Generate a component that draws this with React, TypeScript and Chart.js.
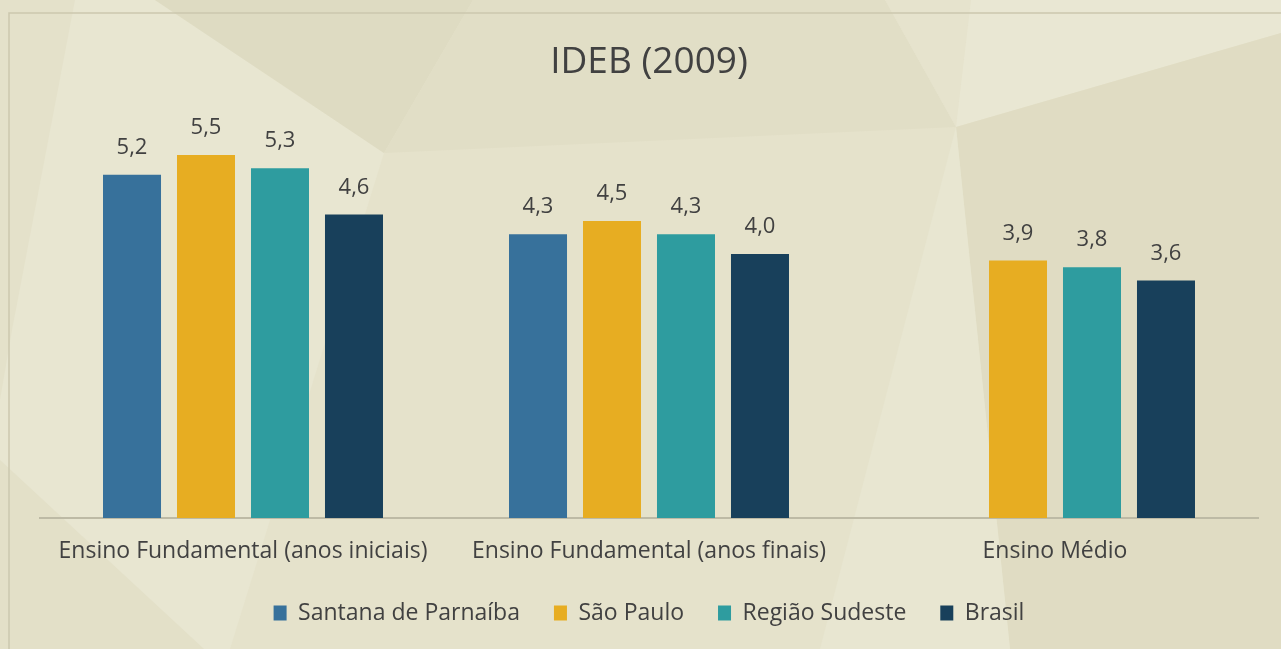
import React, { useEffect, useRef } from "react";
import { Chart, registerables } from "chart.js";

Chart.register(...registerables);

const categories = [
  "Ensino Fundamental (anos iniciais)",
  "Ensino Fundamental (anos finais)",
  "Ensino Médio",
];
const santanaDeParnaiba = [5.2, 4.3, null];
const saoPaulo = [5.5, 4.5, 3.9];
const regiaoSudeste = [5.3, 4.3, 3.8];
const brasil = [4.6, 4.0, 3.6];
const seriesNames = ["Santana de Parnaíba", "São Paulo", "Região Sudeste", "Brasil"];
const seriesColors = ["#37719b", "#e7ad22", "#2e9c9f", "#18405b"];
const titleText = "IDEB (2009)";

const FONT = "'Open Sans', 'DejaVu Sans', sans-serif";
const TEXT = "#414141";

const backgroundPlugin = {
  id: "bgPattern",
  beforeDraw(chart: any) {
    const { ctx, width, height } = chart;
    ctx.save();
    ctx.fillStyle = "#e5e2cb";
    ctx.fillRect(0, 0, width, height);
    const poly = (pts: number[][], color: string) => {
      ctx.beginPath();
      ctx.moveTo(pts[0][0], pts[0][1]);
      for (let i = 1; i < pts.length; i++) ctx.lineTo(pts[i][0], pts[i][1]);
      ctx.closePath();
      ctx.fillStyle = color;
      ctx.fill();
    };
    poly([[0, 0], [155, 0], [384, 153], [230, 649], [0, 649]], "#e8e6d1");
    poly([[0, 0], [75, 0], [12, 330], [0, 400]], "#e4e1ca");
    poly([[0, 460], [204, 649], [0, 649]], "#e3e0c8");
    poly([[155, 0], [473, 0], [384, 153]], "#dedbc2");
    poly([[473, 0], [885, 0], [956, 127], [384, 153]], "#e1dec6");
    poly([[885, 0], [971, 0], [956, 127]], "#e6e3cd");
    poly([[971, 0], [1281, 0], [1281, 33], [956, 127]], "#e9e7d3");
    poly([[956, 127], [1281, 33], [1281, 649], [1010, 649]], "#e0dcc3");
    poly([[956, 127], [1010, 649], [820, 649]], "#e8e6d1");
    ctx.strokeStyle = "#cbc7ae";
    ctx.lineWidth = 1.5;
    ctx.beginPath();
    ctx.moveTo(9, height);
    ctx.lineTo(9, 13);
    ctx.lineTo(width, 13);
    ctx.stroke();
    ctx.restore();
  },
};

const valueLabelPlugin = {
  id: "valueLabels",
  afterDatasetsDraw(chart: any) {
    const { ctx } = chart;
    ctx.save();
    ctx.font = `22px ${FONT}`;
    ctx.fillStyle = TEXT;
    ctx.textAlign = "center";
    ctx.textBaseline = "middle";
    chart.data.datasets.forEach((ds: any, di: number) => {
      const meta = chart.getDatasetMeta(di);
      meta.data.forEach((el: any, i: number) => {
        const v = ds.data[i];
        if (v === null || v === undefined) return;
        ctx.fillText(v.toFixed(1).replace(".", ","), el.x, el.y - 27);
      });
    });
    ctx.restore();
  },
};

export default function App() {
  const ref = useRef<HTMLCanvasElement | null>(null);

  useEffect(() => {
    document.body.style.margin = "0";
    if (!ref.current) return;
    const allSeries = [santanaDeParnaiba, saoPaulo, regiaoSudeste, brasil];
    const chart = new Chart(ref.current, {
      type: "bar",
      data: {
        labels: categories,
        datasets: allSeries.map((d, i) => ({
          label: seriesNames[i],
          data: d,
          backgroundColor: seriesColors[i],
          borderWidth: 0,
          categoryPercentage: 0.729,
          barPercentage: 0.784,
        })),
      },
      options: {
        responsive: false,
        animation: false,
        layout: { padding: { left: 40, right: 23, top: 0, bottom: 14.5 } },
        scales: {
          x: {
            grid: { display: false, drawTicks: false },
            border: { display: true, color: "#bdbaa5", width: 2 },
            ticks: {
              color: TEXT,
              font: { family: FONT, size: 23 },
              padding: 20,
              maxRotation: 0,
              autoSkip: false,
            },
            afterFit(scale: any) {
              scale.height = 49.5;
            },
          },
          y: {
            display: false,
            min: 0,
            max: 6,
          },
        },
        plugins: {
          title: {
            display: true,
            text: titleText,
            color: TEXT,
            font: { family: FONT, size: 37, weight: "normal" },
            padding: { top: 40, bottom: 37.6 },
          },
          legend: {
            position: "bottom",
            labels: {
              color: TEXT,
              font: { family: FONT, size: 23 },
              boxWidth: 13,
              boxHeight: 15,
              padding: 34,
            },
          },
          tooltip: { enabled: false },
        },
      },
      plugins: [backgroundPlugin, valueLabelPlugin],
    });
    return () => chart.destroy();
  }, []);

  return (
    <div style={{ width: 1281, height: 649 }}>
      <canvas ref={ref} width={1281} height={649} style={{ display: "block" }} />
    </div>
  );
}
